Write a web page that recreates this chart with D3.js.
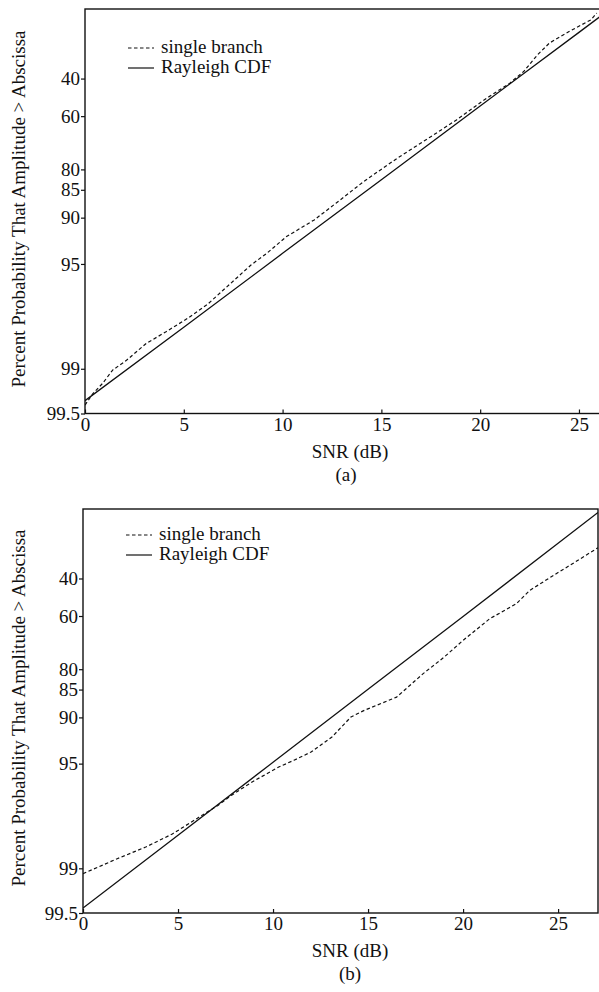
<!DOCTYPE html>
<html>
<head>
<meta charset="utf-8">
<script src="https://cdn.jsdelivr.net/npm/d3@7"></script>
<style>
  body { margin: 0; background: #fff; }
  svg text { font-family: "Liberation Serif", "Times New Roman", serif; fill: #111; }
</style>
</head>
<body>
<svg id="canvas" width="599" height="992"></svg>
<script>
// tick labels
const xTickValues = [0, 5, 10, 15, 20, 25];
const yTickValues = [40, 60, 80, 85, 90, 95, 99, 99.5];

// panel (a)
const snrA_single = [0, 0.4, 0.9, 1.4, 2.1, 3.1, 4.1, 5.2, 6.2, 7.0, 8.4, 9.2, 10.2, 11.6, 12.7, 14.1, 15.8, 17.5, 18.8, 20.2, 21.5, 22.2, 22.9, 23.5, 24.5, 25.6, 25.9];
const pctA_single = [99.43, 99.32, 99.2, 99.02, 98.86, 98.52, 98.23, 97.82, 97.30, 96.64, 95.08, 94.13, 92.45, 90.33, 87.65, 83.15, 76.7, 69.0, 61.8, 51.8, 42.6, 36.0, 26.6, 20.4, 14.9, 10.2, 7.9];
const snrA_rayleigh = [0, 5, 10, 15, 20, 25, 26.1];
const pctA_rayleigh = [99.39, 98.10, 94.13, 82.69, 54.98, 15.27, 8.9];

// panel (b)
const snrB_single = [0, 0.8, 1.8, 3.3, 4.7, 6.1, 7.1, 7.8, 8.9, 10.3, 11.1, 12.0, 13.1, 14.1, 14.8, 16.5, 17.9, 19.0, 20.0, 21.4, 22.8, 23.5, 24.6, 25.6, 27.1];
const pctB_single = [99.08, 98.98, 98.84, 98.61, 98.30, 97.80, 97.36, 96.92, 96.22, 95.25, 94.74, 94.04, 92.53, 89.94, 88.91, 86.55, 81.2, 76.4, 70.5, 61.3, 53.9, 46.8, 39.3, 32.6, 22.8];
const snrB_rayleigh = [0, 5, 10, 15, 20, 25, 27.1];
const pctB_rayleigh = [99.46, 98.33, 94.90, 84.93, 60.2, 20.5, 7.74];

const legendLabels = ["single branch", "Rayleigh CDF"];
const yTitle = "Percent Probability That Amplitude > Abscissa";
const xTitle = "SNR (dB)";

let canvas = d3.select("#canvas");

// rayleigh paper: linear in log10(-ln P)
let rp = (pct) => Math.log10(-Math.log(pct / 100));

let drawPanel = (p) => {
  let g = canvas.append("g");

  let x = d3.scaleLinear().domain([0, p.xMax]).range([p.left, p.right]);
  let y = d3.scaleLinear().domain([rp(99.5), rp(6.7)]).range([p.bottom, p.top]);

  let clipId = "clip" + p.name;
  canvas.append("clipPath").attr("id", clipId)
    .append("rect")
    .attr("x", p.left).attr("y", p.top)
    .attr("width", p.right - p.left).attr("height", p.bottom - p.top);

  // frame
  g.append("rect")
    .attr("x", p.left).attr("y", p.top)
    .attr("width", p.right - p.left).attr("height", p.bottom - p.top)
    .attr("fill", "none").attr("stroke", "#111").attr("stroke-width", 1.4);

  let yAxis = d3.axisLeft(y)
    .tickValues(yTickValues.map(rp))
    .tickFormat((d, i) => yTickValues[i])
    .tickSize(4).tickSizeOuter(0).tickPadding(1);
  let ya = g.append("g").attr("transform", `translate(${p.left},0)`).call(yAxis);

  let xAxis = d3.axisBottom(x)
    .tickValues(xTickValues)
    .tickSize(-4).tickSizeOuter(0).tickPadding(4);
  let xa = g.append("g").attr("transform", `translate(0,${p.bottom})`).call(xAxis);

  [ya, xa].forEach((a) => {
    a.attr("font-family", null);
    a.select(".domain").remove();
    a.selectAll("line").attr("stroke", "#111").attr("stroke-width", 1.2);
    a.selectAll("text").style("font-size", "19px").attr("fill", "#111");
  });

  let line = d3.line()
    .x((d) => x(d[0]))
    .y((d) => y(rp(d[1])));

  let lines = g.append("g").attr("clip-path", `url(#${clipId})`);
  lines.append("path")
    .datum(p.rayleighSnr.map((s, i) => [s, p.rayleighPct[i]]))
    .attr("d", line)
    .attr("fill", "none").attr("stroke", "#111").attr("stroke-width", 1.3);
  lines.append("path")
    .datum(p.singleSnr.map((s, i) => [s, p.singlePct[i]]))
    .attr("d", line)
    .attr("fill", "none").attr("stroke", "#111").attr("stroke-width", 1.2)
    .attr("stroke-dasharray", "3.5,2.5");

  // legend
  legendLabels.forEach((label, i) => {
    let ly = p.legendY + i * 20;
    g.append("line")
      .attr("x1", p.legendX).attr("x2", p.legendX + 26)
      .attr("y1", ly).attr("y2", ly)
      .attr("stroke", "#111").attr("stroke-width", 1.2)
      .attr("stroke-dasharray", i === 0 ? "3.5,2.5" : null);
    g.append("text")
      .attr("x", p.legendX + 33).attr("y", ly + 5)
      .style("font-size", "19px")
      .text(label);
  });

  // titles
  g.append("text")
    .attr("transform", `translate(25,${p.yTitleY}) rotate(-90)`)
    .attr("text-anchor", "middle")
    .style("font-size", "19px")
    .text(yTitle);
  g.append("text")
    .attr("x", 350).attr("y", p.bottom + 44)
    .attr("text-anchor", "middle")
    .style("font-size", "19px")
    .text(xTitle);
  g.append("text")
    .attr("x", p.captionX).attr("y", p.bottom + 67)
    .attr("text-anchor", "middle")
    .style("font-size", "19px")
    .text(p.caption);
};

drawPanel({
  name: "a", caption: "(a)", captionX: 346,
  left: 85, right: 600.7, top: 9, bottom: 413.5, xMax: 26.1,
  singleSnr: snrA_single, singlePct: pctA_single,
  rayleighSnr: snrA_rayleigh, rayleighPct: pctA_rayleigh,
  legendX: 128, legendY: 48, yTitleY: 209
});

drawPanel({
  name: "b", caption: "(b)", captionX: 350,
  left: 83, right: 598, top: 509, bottom: 913, xMax: 27.1,
  singleSnr: snrB_single, singlePct: pctB_single,
  rayleighSnr: snrB_rayleigh, rayleighPct: pctB_rayleigh,
  legendX: 126, legendY: 535, yTitleY: 708
});
</script>
</body>
</html>
